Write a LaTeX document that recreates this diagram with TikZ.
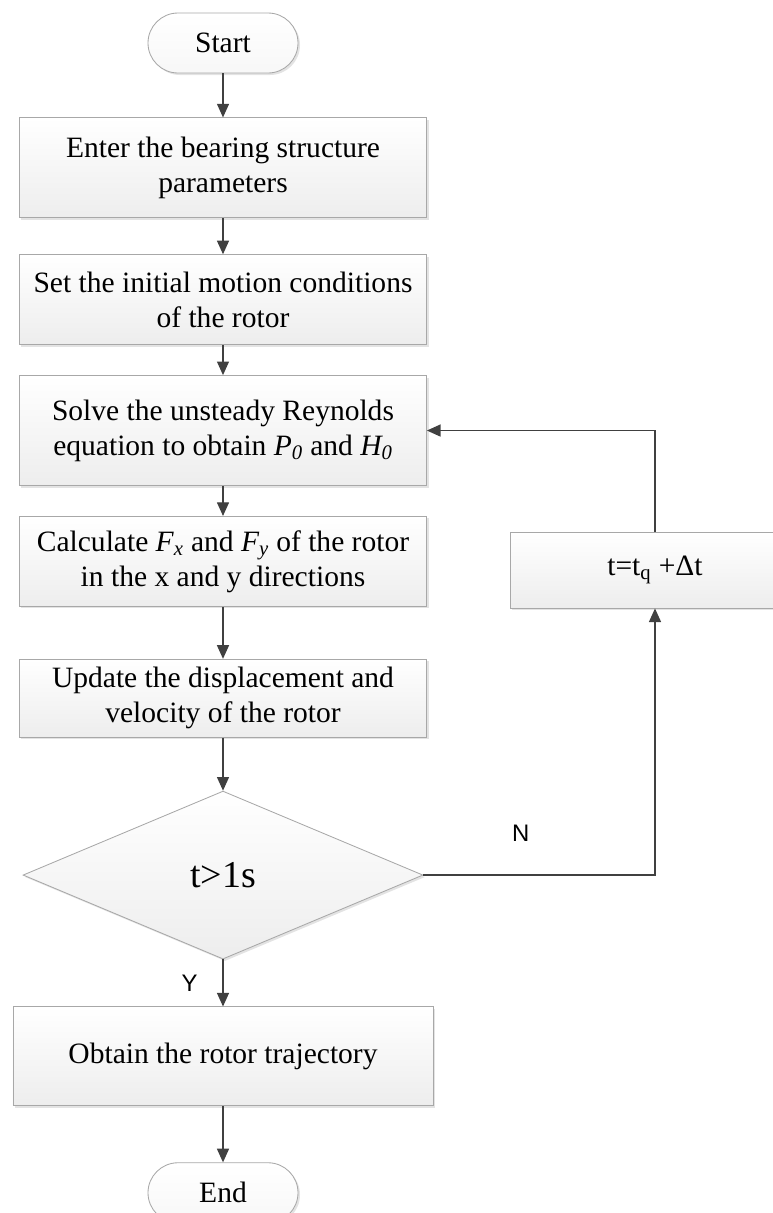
\documentclass[tikz,border=0pt]{standalone}
\usepackage{fontspec}
\setmainfont{Liberation Serif}
\newfontfamily\labelfont{Liberation Sans}
\usetikzlibrary{positioning, shapes.geometric, arrows.meta, shadows}
\usepackage{xcolor}

\definecolor{linegray}{HTML}{404040}
\definecolor{edgegray}{HTML}{A8A8A8}

\tikzset{
    boxbase/.style={draw=edgegray, line width=0.6pt, top color=white, bottom color=gray!14,
        drop shadow={opacity=0.22, shadow xshift=0.5mm, shadow yshift=-0.5mm},
        align=center, inner sep=0pt, font=\fontsize{21}{25}\selectfont},
    process/.style={boxbase, rectangle, minimum width=10.175cm},
    terminal/.style={boxbase, rectangle, rounded corners=0.75cm, top color=white, bottom color=gray!6,
        minimum width=3.75cm, minimum height=1.5cm},
    decision/.style={boxbase, diamond, aspect=2.38, minimum width=10cm, minimum height=4.2cm,
        font=\fontsize{27}{30}\selectfont},
    flow/.style={draw=linegray, line width=0.9pt, -{Triangle[length=3.4mm, width=3mm]}},
    yesno/.style={font=\labelfont\fontsize{17}{20}\selectfont, text=black}
}

\begin{document}
\begin{tikzpicture}
        \useasboundingbox (0,0) rectangle (19.3,-30.325);

        \node[terminal] (start) at (5.575,-1.075) {Start};
        \node[process, minimum height=2.5cm, below = 1.1cm of start] (params)
            {Enter the bearing structure\\parameters};
        \node[process, minimum height=2.25cm, below = 0.9cm of params] (init)
            {Set the initial motion conditions\\of the rotor};
        \node[process, minimum height=2.75cm, below = 0.75cm of init] (reynolds)
            {Solve the unsteady Reynolds\\equation to obtain \textit{P\textsubscript{0}} and \textit{H\textsubscript{0}}};
        \node[process, minimum height=2.25cm, below = 0.75cm of reynolds] (forces)
            {Calculate \textit{F\textsubscript{x}} and \textit{F\textsubscript{y}} of the rotor\\in the x and y directions};
        \node[process, minimum height=1.95cm, below = 1.3cm of forces] (update)
            {Update the displacement and\\velocity of the rotor};
        \node[decision, below = 1.325cm of update] (check) {t>1s};
        \node[process, minimum width=10.5cm, minimum height=2.475cm, below = 1.175cm of check] (traj)
            {Obtain the rotor trajectory};
        \node[terminal, below = 1.4cm of traj] (end) {End};

        \node[process, minimum width=7.25cm, minimum height=1.9cm] (tnext) at (16.375,-14.25)
            {t=t\textsubscript{q} +Δt};

        \draw[flow] (start) -- (params);
        \draw[flow] (params) -- (init);
        \draw[flow] (init) -- (reynolds);
        \draw[flow] (reynolds) -- (forces);
        \draw[flow] (forces) -- (update);
        \draw[flow] (update) -- (check);
        \draw[flow] (check) -- node[yesno, left=0.5cm] {Y} (traj);
        \draw[flow] (traj) -- (end);
        \draw[flow] (check.east) -| node[yesno, pos=0.21, above=0.7cm] {N} (tnext.south);
        \draw[flow] (tnext.north) |- (reynolds.east);
    \end{tikzpicture}
\end{document}
